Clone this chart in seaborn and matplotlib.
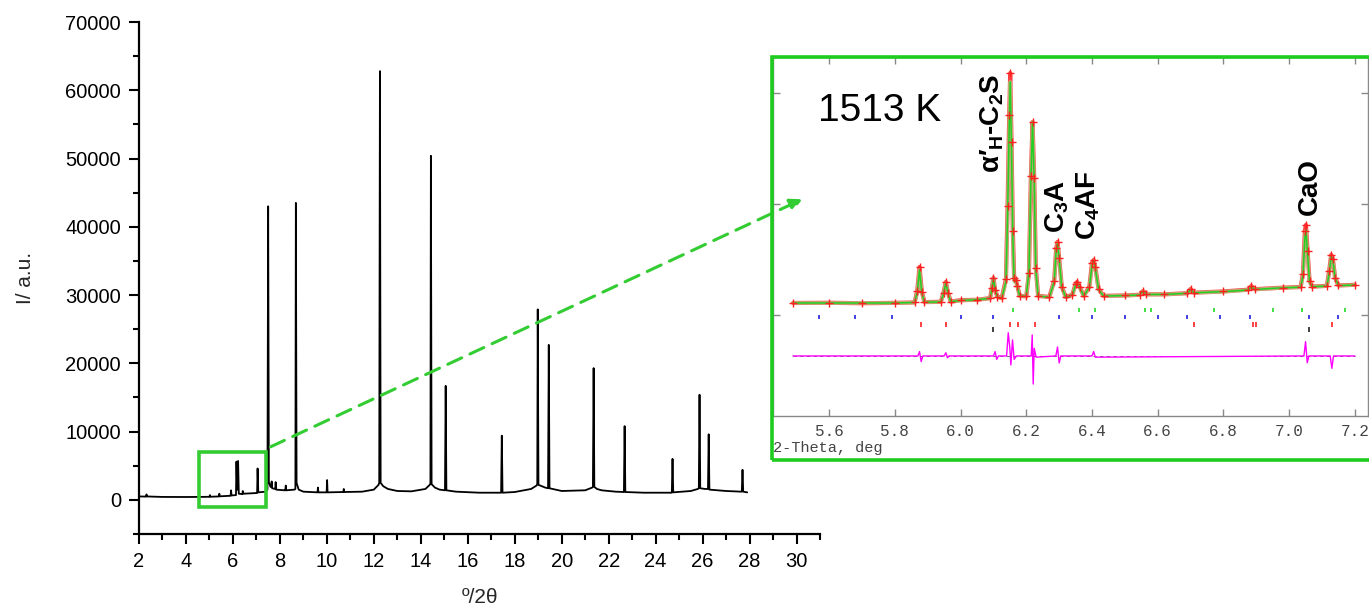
import matplotlib
matplotlib.use("Agg")
import matplotlib.pyplot as plt
import seaborn as sns
from matplotlib.patches import Rectangle, FancyArrowPatch
from matplotlib.ticker import MultipleLocator

# ---------------- main pattern (2theta, intensity) ----------------
main_two_theta = [2.05, 2.30, 2.32, 2.34, 3.0, 4.0, 4.5, 5.0, 5.02, 5.04, 5.4, 5.42, 5.44,
                  5.9, 5.92, 5.94, 6.13, 6.15, 6.18, 6.20, 6.22, 6.25, 6.4, 6.42, 6.44,
                  7.0, 7.03, 7.05, 7.08, 7.4, 7.47, 7.50, 7.53, 7.6, 7.63, 7.65, 7.67,
                  7.8, 7.82, 7.84, 8.2, 8.23, 8.25, 8.27, 8.62, 8.66, 8.68, 8.71, 8.8,
                  9.0, 9.6, 9.62, 9.64, 9.99, 10.01, 10.03, 10.7, 10.72, 10.74, 11.5,
                  12.0, 12.2, 12.23, 12.26, 12.29, 12.4, 12.6, 13.0, 13.6, 14.2, 14.38,
                  14.41, 14.43, 14.46, 14.6, 14.8, 15.03, 15.06, 15.09, 15.5, 16.5, 17.42,
                  17.45, 17.48, 18.0, 18.7, 18.93, 18.96, 18.98, 19.01, 19.3, 19.42, 19.45,
                  19.48, 20.0, 21.0, 21.3, 21.33, 21.36, 21.39, 21.5, 21.7, 22.3, 22.65,
                  22.68, 22.71, 23.5, 24.5, 24.69, 24.72, 24.75, 25.5, 25.8, 25.84, 25.87,
                  25.90, 26.1, 26.23, 26.26, 26.29, 27.0, 27.67, 27.70, 27.73, 27.9]
main_intensity = [500, 480, 800, 500, 430, 420, 430, 450, 700, 460, 500, 900, 520,
                  600, 1400, 650, 700, 5600, 1500, 1500, 5700, 900, 850, 1300, 900,
                  1000, 1000, 4600, 1100, 1200, 1500, 43000, 2600, 1900, 1900, 2700, 1700,
                  1600, 2600, 1500, 1400, 1400, 2100, 1400, 1500, 1600, 43500, 2500, 1500,
                  1200, 1100, 1800, 1100, 1100, 2900, 1100, 1150, 1600, 1150, 1200,
                  1500, 2200, 2500, 62800, 2500, 2000, 1600, 1300, 1250, 1600, 2200,
                  2400, 50400, 2300, 1800, 1500, 1400, 16700, 1400, 1200, 1050, 1050,
                  9400, 1050, 1150, 1600, 2100, 2300, 27900, 2200, 1800, 1700, 22700,
                  1700, 1300, 1400, 1800, 1900, 19300, 1900, 1600, 1400, 1200, 1150,
                  10800, 1150, 1050, 1050, 1050, 6000, 1100, 1300, 1600, 1700, 15400,
                  1700, 1600, 1600, 9600, 1500, 1300, 1200, 4400, 1200, 1100]

main_xticks = [2, 4, 6, 8, 10, 12, 14, 16, 18, 20, 22, 24, 26, 28, 30]
main_yticks = [0, 10000, 20000, 30000, 40000, 50000, 60000, 70000]

# ---------------- inset: Rietveld fit (1513 K) ----------------
fit_two_theta = [5.49, 5.60, 5.70, 5.80, 5.86, 5.868, 5.875, 5.882, 5.89, 5.94, 5.948, 5.955,
                 5.962, 5.97, 6.00, 6.05, 6.09, 6.095, 6.100, 6.105, 6.112, 6.125, 6.138, 6.143,
                 6.148, 6.151, 6.155, 6.159, 6.163, 6.168, 6.173, 6.18, 6.20, 6.208, 6.214, 6.219,
                 6.224, 6.229, 6.236, 6.27, 6.285, 6.291, 6.295, 6.300, 6.308, 6.32, 6.34, 6.35,
                 6.355, 6.362, 6.375, 6.392, 6.400, 6.405, 6.41, 6.42, 6.435, 6.50, 6.545, 6.555,
                 6.565, 6.62, 6.69, 6.70, 6.71, 6.80, 6.875, 6.885, 6.895, 6.98, 7.035, 7.042,
                 7.048, 7.051, 7.056, 7.062, 7.07, 7.115, 7.122, 7.128, 7.133, 7.14, 7.15, 7.20]
calc_intensity = [108, 108, 108, 108, 112, 200, 405, 200, 115, 118, 190, 290,
                  190, 120, 130, 138, 150, 230, 330, 230, 160, 150, 300, 900,
                  1700, 2099, 1500, 700, 300, 320, 250, 170, 170, 400, 1200, 1739,
                  1200, 400, 170, 160, 300, 580, 650, 500, 250, 160, 180, 270,
                  295, 250, 170, 250, 450, 490, 420, 230, 170, 175, 180, 215,
                  185, 185, 195, 228, 200, 210, 225, 255, 230, 245, 250, 350,
                  700, 766, 550, 300, 255, 260, 380, 530, 500, 330, 265, 270]
obs_intensity = [108, 110, 106, 109, 113, 215, 432, 210, 116, 119, 200, 297,
                 195, 121, 133, 137, 152, 240, 333, 225, 165, 152, 320, 980,
                 1800, 2180, 1560, 760, 330, 315, 260, 172, 168, 380, 1250, 1739,
                 1230, 420, 172, 162, 310, 600, 658, 510, 255, 162, 182, 280,
                 297, 255, 172, 255, 470, 495, 430, 235, 172, 176, 182, 216,
                 186, 186, 196, 234, 201, 212, 228, 261, 232, 246, 252, 370,
                 760, 811, 580, 310, 256, 262, 400, 541, 505, 335, 266, 272]

diff_two_theta = [5.49, 5.87, 5.875, 5.88, 5.885, 5.95, 5.955, 5.96, 5.965, 6.10, 6.105, 6.11,
                  6.115, 6.14, 6.145, 6.15, 6.153, 6.158, 6.163, 6.17, 6.215, 6.218, 6.221,
                  6.224, 6.23, 6.29, 6.295, 6.30, 6.305, 6.40, 6.405, 6.41, 7.045, 7.05, 7.055,
                  7.06, 7.125, 7.13, 7.135, 7.20]
diff_intensity = [-369, -369, -330, -420, -369, -369, -340, -385, -369, -369, -330, -400,
                  -369, -369, -160, -300, -450, -225, -400, -369, -369, -180, -622,
                  -300, -380, -369, -288, -432, -369, -369, -330, -380, -369, -240, -430,
                  -369, -369, -480, -369, -369]
diff_zero = -369

ticks_phase_green = [6.16, 6.36, 6.41, 6.56, 6.58, 6.77, 6.95, 7.04, 7.17]
ticks_phase_blue = [5.57, 5.68, 5.79, 6.00, 6.10, 6.30, 6.40, 6.50, 6.60, 6.69, 6.79, 6.88, 7.06, 7.15]
ticks_phase_red = [5.88, 5.955, 6.15, 6.175, 6.225, 6.71, 6.89, 6.90, 7.13]
ticks_phase_black = [6.10, 7.06]

inset_xticks = [5.6, 5.8, 6.0, 6.2, 6.4, 6.6, 6.8, 7.0, 7.2]
inset_yticks = [0, 1000, 2000]

# ---------------- style ----------------
sns.set_style("ticks")
plt.rcParams['font.family'] = ['Liberation Sans', 'DejaVu Sans']
plt.rcParams['mathtext.fontset'] = 'custom'
plt.rcParams['mathtext.rm'] = 'Liberation Sans'
plt.rcParams['mathtext.bf'] = 'Liberation Sans:bold'
plt.rcParams['mathtext.it'] = 'Liberation Sans:italic'

W, H = 1369, 610
fig = plt.figure(figsize=(W / 100, H / 100), dpi=100)

# main axes
ax = fig.add_axes([139 / W, (H - 534) / H, (820 - 139) / W, (534 - 22) / H])
sns.lineplot(x=main_two_theta, y=main_intensity, ax=ax, color='black', lw=1.3,
             estimator=None, sort=False, legend=False)
ax.set_xlim(2, 31)
ax.set_ylim(-5000, 70000)
ax.set_xticks(main_xticks)
ax.set_yticks(main_yticks)
ax.xaxis.set_minor_locator(MultipleLocator(1))
ax.yaxis.set_minor_locator(MultipleLocator(5000))
sns.despine(ax=ax)
for s in ['left', 'bottom']:
    ax.spines[s].set_linewidth(1.6)
    ax.spines[s].set_color('black')
ax.tick_params(which='major', direction='out', length=7, width=1.5, labelsize=14.5,
               color='black', labelcolor='black', pad=6)
ax.tick_params(which='minor', direction='out', length=4, width=1.5, color='black')
ax.set_xlabel('º/2θ', fontsize=15, labelpad=12)
ax.set_ylabel('I/ a.u.', fontsize=15, labelpad=22)

# zoom box on main plot
ax.add_patch(Rectangle((4.55, -1030), 2.85, 8070, fill=False, ec='#33CC33', lw=2.6, zorder=5))

# dashed arrow
arrow = FancyArrowPatch((268 / W, (H - 448) / H), (805 / W, (H - 198) / H),
                        transform=fig.transFigure, arrowstyle='-|>', mutation_scale=18,
                        color='#33CC33', lw=2.2, linestyle=(0, (5, 3)), zorder=6)
fig.add_artist(arrow)

# inset axes
ax_in = fig.add_axes([773 / W, (H - 416) / H, (1368 - 773) / W, (416 - 57) / H])
ax_in.set_facecolor('white')
sns.lineplot(x=fit_two_theta, y=obs_intensity, ax=ax_in, color='#FF2020', lw=3.0,
             estimator=None, sort=False, legend=False, alpha=0.85)
sns.lineplot(x=fit_two_theta, y=calc_intensity, ax=ax_in, color='#9AF09A', lw=2.6,
             estimator=None, sort=False, legend=False, alpha=0.6)
sns.lineplot(x=fit_two_theta, y=calc_intensity, ax=ax_in, color='#22D022', lw=1.1,
             estimator=None, sort=False, legend=False)
sns.scatterplot(x=fit_two_theta, y=obs_intensity, ax=ax_in, marker='+', color='#FF2020',
                s=30, linewidth=1, legend=False, zorder=4)
sns.lineplot(x=diff_two_theta, y=diff_intensity, ax=ax_in, color='#FF00FF', lw=1.0,
             estimator=None, sort=False, legend=False)
ax_in.hlines(diff_zero, fit_two_theta[0], fit_two_theta[-1], color='#555555', lw=0.6,
             linestyles=(0, (4, 4)), zorder=1)
ax_in.vlines(ticks_phase_green, 25, 60, color='#33DD33', lw=1.3)
ax_in.vlines(ticks_phase_blue, -40, 0, color='#3333DD', lw=1.3)
ax_in.vlines(ticks_phase_red, -105, -65, color='#FF3333', lw=1.3)
ax_in.vlines(ticks_phase_black, -150, -110, color='#333333', lw=1.3)

ax_in.set_xlim(5.429, 7.24)
ax_in.set_ylim(-910, 2324)
ax_in.set_xticks(inset_xticks)
ax_in.set_xticklabels([f'{v:.1f}' for v in inset_xticks])
ax_in.set_yticks(inset_yticks)
ax_in.set_yticklabels([])
for s in ax_in.spines.values():
    s.set_color('#888888')
    s.set_linewidth(1.0)
    s.set_visible(True)
ax_in.tick_params(direction='in', length=5, width=1.0, color='#888888',
                  top=True, right=True, bottom=True, left=True,
                  labelsize=11.5, labelcolor='#444444', pad=6)
for lab in ax_in.get_xticklabels():
    lab.set_family(['Liberation Mono', 'DejaVu Sans Mono'])
ax_in.text(0.0, -0.09, '2-Theta, deg', transform=ax_in.transAxes, ha='left', va='center',
           fontsize=11, color='#444444', family=['Liberation Mono', 'DejaVu Sans Mono'])

# annotations
ax_in.text(5.566, 1838, '1513 K', fontsize=28, ha='left', va='center', color='black')
lab_kw = dict(rotation=90, ha='center', va='bottom', fontsize=20, fontweight='bold', color='black')
ax_in.text(6.097, 1279, r"α′$_\mathbf{H}$-C$_\mathbf{2}$S", **lab_kw)
ax_in.text(6.295, 739, r"C$_\mathbf{3}$A", **lab_kw)
ax_in.text(6.39, 676, r"C$_\mathbf{4}$AF", **lab_kw)
ax_in.text(7.063, 901, "CaO", **lab_kw)

# green frame around inset
frame = Rectangle((771.5 / W, (H - 460) / H), 0.5, (460 - 56.5) / H, transform=fig.transFigure,
                  fill=False, ec='#1ECB1E', lw=2.6, zorder=20, clip_on=False)
fig.add_artist(frame)

fig.savefig('out.png', dpi=100)
